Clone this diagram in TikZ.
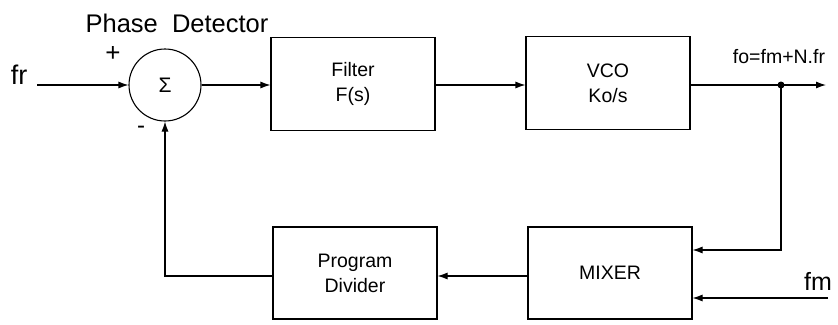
\documentclass[tikz,border=0pt]{standalone}
\usepackage{fontspec}
\setmainfont{Liberation Sans}
\usetikzlibrary{arrows.meta}
\begin{document}
\begin{tikzpicture}[x=1pt,y=-1pt,
  blk/.style={draw,line width=1.1pt,minimum width=164pt,minimum height=93pt,align=center,font=\fontsize{19.5}{25}\selectfont,inner sep=0pt},
  conn/.style={line width=1.1pt},
  arr/.style={conn,-{Latex[length=10pt,width=7pt]}},
  lbl/.style={inner sep=0pt}]
\useasboundingbox (0,0) rectangle (838,324);
\node[draw,circle,line width=1.1pt,minimum size=72pt,inner sep=0pt,font=\fontsize{21}{21}\selectfont] (sum) at (165,85) {Σ};
\node[blk] (filter) at (353,84) {Filter\\F(s)};
\node[blk] (vco) at (608,83) {VCO\\Ko/s};
\node[blk,minimum height=92pt] (mixer) at (610,273) {MIXER};
\node[blk,minimum height=92pt] (div) at (355,273) {Program\\Divider};
\coordinate (in) at (37,85);
\coordinate (out) at (826,85);
\coordinate (dot) at (781,85);
\coordinate (m1) at (mixer.east |- 0,250);
\coordinate (fmin) at (828,298);
\coordinate (m2) at (mixer.east |- 0,298);
\fill (dot) circle (3.5pt);
\node[lbl,font=\fontsize{27}{27}\selectfont] (fr) at (19,75) {fr};
\node[lbl,font=\fontsize{25.5}{25.5}\selectfont] (pd) at (177,23) {Phase\ \ Detector};
\node[lbl,font=\fontsize{26}{26}\selectfont] (plus) at (113,54) {+};
\node[lbl,font=\fontsize{24}{24}\selectfont] (minus) at (141,130) {-};
\node[lbl,font=\fontsize{19.5}{19.5}\selectfont] (fo) at (779,57) {fo=fm+N.fr};
\node[lbl,font=\fontsize{25}{25}\selectfont] (fm) at (818,281) {fm};
\draw[arr] (in) -- (sum.west);
\draw[arr] (sum.east) -- (filter.west |- sum.east);
\draw[arr] (filter.east |- 0,85) -- (vco.west |- 0,85);
\draw[arr] (vco.east |- 0,85) -- (out);
\draw[arr] (dot) |- (m1);
\draw[arr] (fmin) -- (m2);
\draw[arr] (mixer.west |- 0,276) -- (div.east |- 0,276);
\draw[arr] (div.west |- 0,276) -| (sum.south);
\end{tikzpicture}
\end{document}
